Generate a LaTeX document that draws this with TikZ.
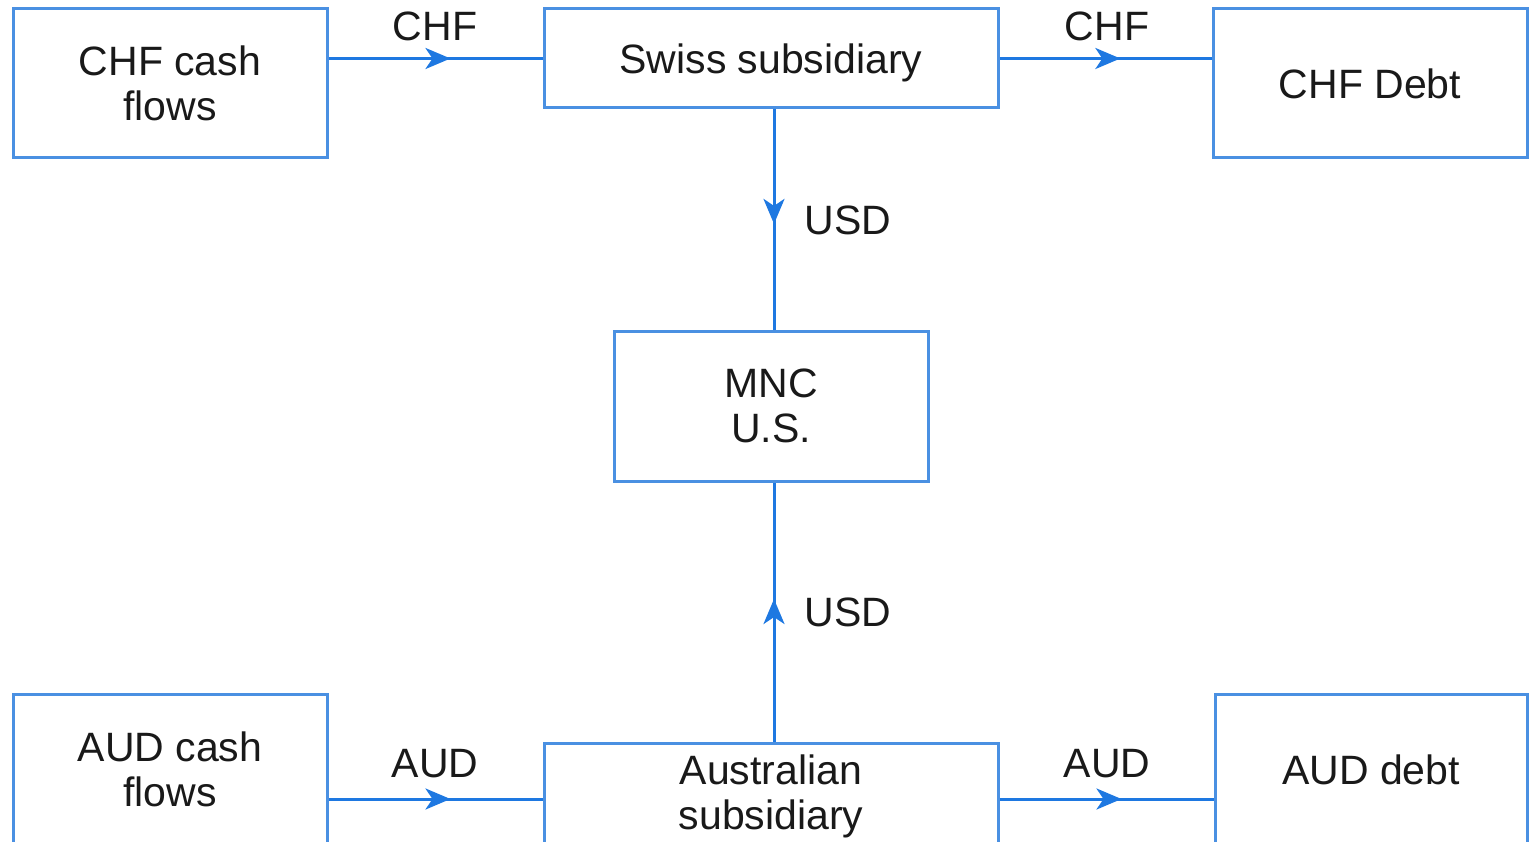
\documentclass[tikz,border=0pt]{standalone}
\usepackage{fontspec}
\setmainfont{Liberation Sans}
\usetikzlibrary{arrows.meta,decorations.markings}
\definecolor{boxblue}{RGB}{74,144,226}
\definecolor{arrblue}{RGB}{30,120,225}
\begin{document}
\begin{tikzpicture}[x=1pt,y=-1pt,
  box/.style={draw=boxblue, line width=3pt, inner sep=0pt, align=center,
    font=\fontsize{41}{45}\selectfont, text=black!90},
  flow/.style={draw=arrblue, line width=3pt, postaction={decorate},
    decoration={markings, mark=at position #1 with {\arrow{Stealth[length=25pt,width=21pt,inset=7pt]}}}},
  lbl/.style={font=\fontsize{41}{45}\selectfont, inner sep=0pt, text=black!90}]
\useasboundingbox (0,0) rectangle (1530,842);
\clip (0,0) rectangle (1530,842);
\node[box, minimum width=314pt, minimum height=149pt] (chfcash) at (170,83.5) {CHF cash\\flows};
\node[box, minimum width=454pt, minimum height=99pt, text depth=0pt] (swiss) at (771,58.5) {Swiss subsidiary};
\node[box, minimum width=314pt, minimum height=149pt] (chfdebt) at (1370,83.5) {CHF Debt};
\node[box, minimum width=314pt, minimum height=150pt] (mnc) at (771,406) {MNC\\U.S.};
\node[box, minimum width=314pt, minimum height=151pt] (audcash) at (170,769.5) {AUD cash\\flows};
\node[box, minimum width=454pt, minimum height=106pt] (aus) at (771,796) {Australian\\subsidiary};
\node[box, minimum width=312pt, minimum height=151pt] (auddebt) at (1371,769.5) {AUD debt};

\coordinate (sws) at ([xshift=3pt]swiss.south);
\coordinate (aun) at ([xshift=3pt]aus.north);
\draw[flow=0.57] (swiss.west -| chfcash.east) -- (swiss.west);
\draw[flow=0.57] (swiss.east) -- (swiss.east -| chfdebt.west);
\draw[flow=0.52] (sws) -- (sws |- mnc.north);
\draw[flow=0.55] (aun) -- (aun |- mnc.south);
\coordinate (auswest) at (aus.west |- 0,799);
\coordinate (auseast) at (aus.east |- 0,799);
\draw[flow=0.57] (auswest -| audcash.east) -- (auswest);
\draw[flow=0.57] (auseast) -- (auseast -| auddebt.west);

\node[lbl] (l1) at (435,26) {CHF};
\node[lbl] (l2) at (1107,26) {CHF};
\node[lbl] (l3) at (848,220) {USD};
\node[lbl] (l4) at (848,612) {USD};
\node[lbl] (l5) at (435,764) {AUD};
\node[lbl] (l6) at (1107,764) {AUD};
\end{tikzpicture}
\end{document}
